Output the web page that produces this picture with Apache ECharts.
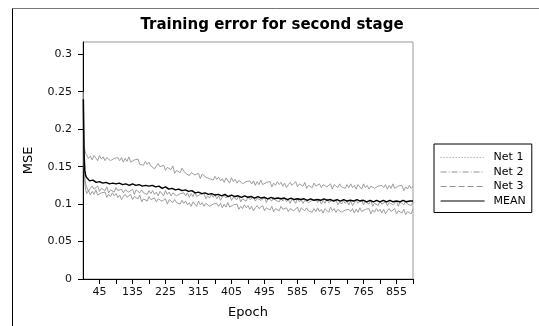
<!DOCTYPE html>
<html><head><meta charset="utf-8">
<script src="https://cdn.jsdelivr.net/npm/echarts@6/dist/echarts.min.js"></script>
<style>html,body{margin:0;padding:0;background:#fff}#c{width:539px;height:326px}</style>
</head><body><div id="c"></div>
<script>
// epochs for the three nets (fine sampling)
const epochsNet = [1,2,3,5,7,
10,15,20,25,30,35,40,45,50,55,60,65,70,75,80,85,90,95,
100,105,110,115,120,125,130,135,140,145,150,155,160,165,170,175,180,185,
190,195,200,205,210,215,220,225,230,235,240,245,250,255,260,265,270,275,
280,285,290,295,300,305,310,315,320,325,330,335,340,345,350,355,360,365,
370,375,380,385,390,395,400,405,410,415,420,425,430,435,440,445,450,455,
460,465,470,475,480,485,490,495,500,505,510,515,520,525,530,535,540,545,
550,555,560,565,570,575,580,585,590,595,600,605,610,615,620,625,630,635,
640,645,650,655,660,665,670,675,680,685,690,695,700,705,710,715,720,725,
730,735,740,745,750,755,760,765,770,775,780,785,790,795,800,805,810,815,
820,825,830,835,840,845,850,855,860,865,870,875,880,885,890,895,900];

const net1 = [0.230,0.195,0.180,0.172,0.168,
0.166,0.161,0.164,0.159,0.165,0.163,0.158,0.165,0.160,0.163,0.158,0.162,0.163,0.158,0.156,0.161,0.160,0.162,
0.158,0.162,0.156,0.161,0.157,0.163,0.156,0.154,0.159,0.157,0.160,0.153,0.155,0.152,0.157,0.153,0.156,0.151,
0.153,0.147,0.151,0.154,0.150,0.149,0.152,0.145,0.149,0.150,0.146,0.151,0.141,0.145,0.146,0.142,0.148,0.144,
0.141,0.143,0.138,0.142,0.144,0.139,0.137,0.141,0.134,0.140,0.138,0.136,0.138,0.134,0.136,0.132,0.137,0.133,
0.136,0.131,0.134,0.129,0.135,0.133,0.128,0.135,0.130,0.133,0.128,0.132,0.132,0.127,0.125,0.130,0.129,0.131,
0.127,0.131,0.125,0.130,0.126,0.132,0.126,0.124,0.129,0.127,0.130,0.123,0.128,0.125,0.130,0.126,0.129,0.124,
0.128,0.122,0.126,0.129,0.125,0.124,0.130,0.123,0.127,0.128,0.124,0.129,0.121,0.125,0.126,0.122,0.128,0.124,
0.125,0.127,0.122,0.126,0.128,0.123,0.123,0.127,0.120,0.126,0.124,0.122,0.127,0.123,0.125,0.121,0.126,0.122,
0.127,0.122,0.125,0.120,0.126,0.124,0.120,0.127,0.122,0.125,0.120,0.124,0.126,0.121,0.119,0.124,0.123,0.125,
0.122,0.126,0.120,0.125,0.121,0.127,0.121,0.119,0.124,0.122,0.125,0.118,0.123,0.120,0.125,0.121,0.124];

const net2 = [0.250,0.200,0.160,0.135,0.127,
0.123,0.117,0.121,0.124,0.120,0.119,0.124,0.117,0.121,0.122,0.118,0.123,0.115,0.119,0.120,0.116,0.122,0.118,
0.118,0.120,0.115,0.119,0.121,0.116,0.116,0.120,0.113,0.119,0.117,0.115,0.119,0.115,0.117,0.113,0.118,0.114,
0.118,0.113,0.116,0.111,0.117,0.115,0.111,0.118,0.113,0.116,0.111,0.115,0.116,0.111,0.109,0.114,0.113,0.115,
0.111,0.115,0.109,0.114,0.110,0.116,0.110,0.108,0.113,0.111,0.114,0.107,0.111,0.108,0.113,0.109,0.112,0.107,
0.111,0.105,0.109,0.112,0.108,0.107,0.112,0.105,0.109,0.110,0.106,0.111,0.103,0.107,0.108,0.104,0.110,0.106,
0.107,0.109,0.104,0.108,0.110,0.105,0.105,0.109,0.102,0.108,0.106,0.104,0.109,0.105,0.107,0.103,0.108,0.104,
0.108,0.103,0.106,0.101,0.107,0.105,0.101,0.108,0.103,0.106,0.101,0.105,0.107,0.102,0.100,0.105,0.104,0.106,
0.102,0.106,0.100,0.105,0.101,0.107,0.102,0.100,0.105,0.103,0.106,0.099,0.103,0.100,0.105,0.101,0.104,0.099,
0.104,0.098,0.102,0.105,0.101,0.100,0.106,0.099,0.103,0.104,0.100,0.105,0.097,0.101,0.102,0.098,0.104,0.100,
0.101,0.103,0.098,0.102,0.104,0.099,0.100,0.104,0.097,0.103,0.101,0.099,0.104,0.100,0.102,0.098,0.103];

const net3 = [0.240,0.192,0.152,0.128,0.120,
0.114,0.118,0.112,0.117,0.113,0.119,0.112,0.110,0.115,0.113,0.116,0.109,0.113,0.110,0.115,0.111,0.114,0.109,
0.112,0.106,0.110,0.113,0.109,0.108,0.113,0.106,0.110,0.111,0.107,0.112,0.103,0.107,0.108,0.104,0.110,0.106,
0.106,0.108,0.103,0.107,0.109,0.104,0.103,0.107,0.100,0.106,0.104,0.102,0.106,0.102,0.104,0.100,0.105,0.101,
0.104,0.099,0.102,0.097,0.103,0.101,0.097,0.104,0.099,0.102,0.097,0.101,0.102,0.097,0.095,0.100,0.099,0.101,
0.097,0.101,0.095,0.100,0.096,0.102,0.096,0.094,0.099,0.097,0.100,0.093,0.097,0.094,0.099,0.095,0.098,0.093,
0.097,0.091,0.095,0.098,0.094,0.093,0.098,0.091,0.095,0.096,0.092,0.097,0.090,0.094,0.095,0.091,0.097,0.093,
0.093,0.095,0.090,0.094,0.096,0.091,0.092,0.096,0.089,0.095,0.093,0.091,0.095,0.091,0.093,0.089,0.094,0.090,
0.095,0.090,0.093,0.088,0.094,0.092,0.089,0.096,0.091,0.094,0.089,0.093,0.094,0.089,0.087,0.092,0.091,0.093,
0.090,0.094,0.088,0.093,0.089,0.095,0.090,0.088,0.093,0.091,0.094,0.087,0.092,0.089,0.094,0.090,0.093,0.088,
0.093,0.087,0.091,0.094,0.090,0.089,0.094,0.087,0.091,0.092,0.088,0.093,0.086,0.090,0.091,0.087,0.093];

// epochs for the mean curve
const epochsMean = [1,2,3,5,7,
9,18,27,36,45,54,63,72,81,90,
99,108,117,126,135,144,153,162,171,180,
189,198,207,216,225,234,243,252,261,270,
279,288,297,306,315,324,333,342,351,360,
369,378,387,396,405,414,423,432,441,450,
459,468,477,486,495,504,513,522,531,540,
549,558,567,576,585,594,603,612,621,630,
639,648,657,666,675,684,693,702,711,720,
729,738,747,756,765,774,783,792,801,810,
819,828,837,846,855,864,873,882,891,900];

const meanErr = [0.240,0.196,0.165,0.145,0.139,
0.136,0.131,0.132,0.129,0.130,0.128,0.129,0.127,0.128,0.127,
0.128,0.126,0.127,0.125,0.127,0.125,0.126,0.124,0.125,0.124,
0.125,0.123,0.124,0.121,0.123,0.120,0.121,0.119,0.120,0.118,
0.119,0.117,0.118,0.115,0.116,0.114,0.115,0.113,0.114,0.112,
0.113,0.111,0.113,0.110,0.112,0.110,0.111,0.109,0.111,0.109,
0.110,0.108,0.110,0.108,0.109,0.107,0.109,0.107,0.108,0.107,
0.108,0.106,0.108,0.106,0.107,0.106,0.107,0.105,0.107,0.105,
0.106,0.105,0.107,0.105,0.106,0.104,0.106,0.104,0.106,0.104,
0.105,0.104,0.106,0.104,0.105,0.103,0.105,0.103,0.105,0.103,
0.105,0.103,0.105,0.103,0.104,0.103,0.105,0.103,0.104,0.104];

const yTickValues = [0,0.05,0.1,0.15,0.2,0.25,0.3];
const xTickValues = [45,90,135,180,225,270,315,360,405,450,495,540,585,630,675,720,765,810,855,900];
const xLabelValues = [45,135,225,315,405,495,585,675,765,855];
const seriesNames = ['Net 1','Net 2','Net 3','MEAN'];

const FONT = 'DejaVu Sans';
const pair = (xs, ys) => xs.map((e,i)=>[e, ys[i]]);
const gray = '#939393';

const chart = echarts.init(document.getElementById('c'), null, {renderer:'canvas'});
chart.setOption({
  animation:false,
  backgroundColor:'#fff',
  title:{text:'Training error for second stage', left:267, top:13, textAlign:'center',
    textStyle:{fontFamily:FONT, fontSize:15, fontWeight:'bold', color:'#000'}},
  graphic:[
    {type:'line', shape:{x1:12.5,y1:8.5,x2:539,y2:8.5}, style:{stroke:'#777',lineWidth:1}},
    {type:'line', shape:{x1:12.5,y1:8.5,x2:12.5,y2:326}, style:{stroke:'#000',lineWidth:1}}
  ],
  grid:{left:83, right:126, top:42, bottom:47, show:true, borderColor:'#999', borderWidth:1, backgroundColor:'#fff'},
  legend:{
    orient:'vertical', left:434, top:144,
    itemWidth:44, itemHeight:12, itemGap:3.5,
    padding:[8,6,6,6], borderColor:'#000', borderWidth:1, backgroundColor:'#fff',
    itemStyle:{opacity:0},
    textStyle:{fontFamily:FONT, fontSize:11, color:'#000', padding:[0,0,0,4]},
    data:[
      {name:seriesNames[0], lineStyle:{type:[1,2], color:gray, width:1}},
      {name:seriesNames[1], lineStyle:{type:[6,2,1,2], color:gray, width:1}},
      {name:seriesNames[2], lineStyle:{type:[6,3], color:gray, width:1}},
      {name:seriesNames[3], lineStyle:{type:'solid', color:'#000', width:1.2}}
    ]
  },
  xAxis:{
    type:'value', min:0, max:900,
    name:'Epoch', nameLocation:'middle', nameGap:27,
    nameTextStyle:{fontFamily:FONT, fontSize:13, color:'#000'},
    axisLine:{show:true, onZero:false, lineStyle:{color:'#000', width:1}},
    axisTick:{show:true, length:5, customValues:xTickValues, lineStyle:{color:'#000'}},
    axisLabel:{customValues:xLabelValues, margin:8, fontFamily:FONT, fontSize:11, color:'#111'},
    splitLine:{show:false}
  },
  yAxis:{
    type:'value', min:0, max:0.3164,
    name:'MSE', nameLocation:'middle', nameGap:48,
    nameTextStyle:{fontFamily:FONT, fontSize:13, color:'#000'},
    axisLine:{show:true, onZero:false, lineStyle:{color:'#000', width:1}},
    axisTick:{show:true, length:5, customValues:yTickValues, lineStyle:{color:'#000'}},
    axisLabel:{customValues:yTickValues, margin:11, fontFamily:FONT, fontSize:11, color:'#111',
      formatter: v => String(+v.toFixed(2))},
    splitLine:{show:false}
  },
  series:[
    {name:seriesNames[0], type:'line', data:pair(epochsNet, net1), symbol:'none', lineStyle:{color:gray, width:0.9}, itemStyle:{color:gray}, z:2},
    {name:seriesNames[1], type:'line', data:pair(epochsNet, net2), symbol:'none', lineStyle:{color:gray, width:0.9}, itemStyle:{color:gray}, z:2},
    {name:seriesNames[2], type:'line', data:pair(epochsNet, net3), symbol:'none', lineStyle:{color:gray, width:0.9}, itemStyle:{color:gray}, z:2},
    {name:seriesNames[3], type:'line', data:pair(epochsMean, meanErr), symbol:'none', lineStyle:{color:'#000', width:1.5}, itemStyle:{color:'#000'}, z:3}
  ]
});
</script></body></html>
